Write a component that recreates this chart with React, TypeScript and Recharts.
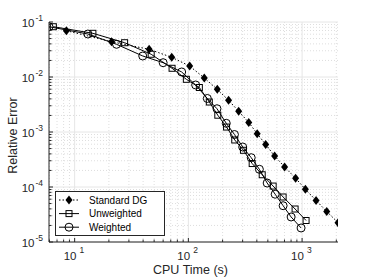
import { ComposedChart, Line, XAxis, YAxis, CartesianGrid, Legend, Label } from 'recharts'

// CPU time (s) and relative error
const dgTime = [8.46, 21.1, 45.2, 71.4, 102.7, 138, 179.6, 225.7, 277, 339.5, 403, 478.5, 573.6, 702, 877, 1069, 1327, 1647, 2069]
const dgError = [0.0695, 0.0438, 0.0319, 0.0228, 0.0158, 0.0096, 0.00597, 0.00377, 0.00238, 0.00149, 0.000931, 0.000593, 0.000366, 0.000231, 0.000144, 0.0000912, 0.0000569, 0.0000359, 0.0000225]

const unwTime = [6.5, 14.47, 27.5, 47.1, 71.9, 96, 124.9, 152.8, 181.5, 216.7, 255.7, 305, 364, 446, 556.6, 681, 868, 1084]
const unwError = [0.0821, 0.0623, 0.042, 0.0259, 0.0144, 0.00908, 0.00644, 0.00351, 0.00202, 0.00123, 0.000716, 0.000465, 0.000267, 0.000167, 0.000104, 0.0000658, 0.0000398, 0.0000246]

const wTime = [5.95, 13.08, 23.35, 39.7, 60, 87.3, 115.9, 146.8, 178.5, 215.4, 254.2, 300.6, 357, 421, 493, 579.6, 681, 801, 980]
const wError = [0.0821, 0.0605, 0.0393, 0.0241, 0.0182, 0.01234, 0.00716, 0.00407, 0.00265, 0.00144, 0.000901, 0.000534, 0.000341, 0.00021, 0.000118, 0.000074, 0.0000457, 0.0000285, 0.000018]

const xMajor = [10, 100, 1000]
const yMajor = [1e-5, 1e-4, 1e-3, 1e-2, 1e-1]
const xMinor = [6, 7, 8, 9, 20, 30, 40, 50, 60, 70, 80, 90, 200, 300, 400, 500, 600, 700, 800, 900, 2000]
const yMinor = [
  2e-5, 3e-5, 4e-5, 5e-5, 6e-5, 7e-5, 8e-5, 9e-5,
  2e-4, 3e-4, 4e-4, 5e-4, 6e-4, 7e-4, 8e-4, 9e-4,
  2e-3, 3e-3, 4e-3, 5e-3, 6e-3, 7e-3, 8e-3, 9e-3,
  2e-2, 3e-2, 4e-2, 5e-2, 6e-2, 7e-2, 8e-2, 9e-2,
]

const zip = (xs: number[], ys: number[]) => xs.map((x, i) => ({ x, y: ys[i] }))

const series = [
  { name: 'Standard DG', data: zip(dgTime, dgError), shape: 'diamond', dash: '1.5 2' },
  { name: 'Unweighted', data: zip(unwTime, unwError), shape: 'square', dash: undefined },
  { name: 'Weighted', data: zip(wTime, wError), shape: 'circle', dash: undefined },
]

const font = '"Liberation Sans", Arial, sans-serif'
const axisColor = '#262626'

function marker(shape: string, cx: number, cy: number, key?: string | number) {
  if (shape === 'diamond') {
    return (
      <polygon
        key={key}
        points={`${cx},${cy - 4.5} ${cx + 3.5},${cy} ${cx},${cy + 4.5} ${cx - 3.5},${cy}`}
        fill="#000"
      />
    )
  }
  if (shape === 'square') {
    return <rect key={key} x={cx - 3} y={cy - 3} width={6} height={6} fill="none" stroke="#000" strokeWidth={1} />
  }
  return <circle key={key} cx={cx} cy={cy} r={4} fill="none" stroke="#000" strokeWidth={1} />
}

const exp = (v: number) => Math.round(Math.log10(v))

function XTick(props: any) {
  const { x, y, payload } = props
  const major = xMajor.includes(payload.value)
  return (
    <g>
      <line x1={x} x2={x} y1={y} y2={y - (major ? 4 : 2.5)} stroke={axisColor} />
      {major && (
        <text x={x - 11} y={y + 18} fontSize={11.5} fill={axisColor} fontFamily={font}>
          10
          <tspan dx={3} dy={-7.5} fontSize={8.5}>{exp(payload.value)}</tspan>
        </text>
      )}
    </g>
  )
}

function YTick(props: any) {
  const { x, y, payload } = props
  const major = yMajor.includes(payload.value)
  return (
    <g>
      <line x1={x} x2={x + (major ? 4 : 2.5)} y1={y} y2={y} stroke={axisColor} />
      {major && (
        <text x={x - 6} y={y + 4.5} textAnchor="end" fontSize={11.5} fill={axisColor} fontFamily={font}>
          10
          <tspan dx={1} dy={-6} fontSize={8.5}>{exp(payload.value)}</tspan>
        </text>
      )}
    </g>
  )
}

function LegendBox() {
  return (
    <svg width={110} height={45} style={{ display: 'block' }}>
      <rect x={0.5} y={0.5} width={109} height={44} fill="#fff" stroke={axisColor} />
      {series.map((s, i) => {
        const cy = 9 + i * 13.6
        return (
          <g key={s.name}>
            <line x1={4} x2={24} y1={cy} y2={cy} stroke="#000" strokeDasharray={s.dash} />
            {marker(s.shape, 14, cy)}
            <text x={34} y={cy + 3.5} fontSize={10} fill="#000" fontFamily={font}>
              {s.name}
            </text>
          </g>
        )
      })}
    </svg>
  )
}

export default function App() {
  return (
    <div style={{ position: 'absolute', left: 0, top: 0, background: '#fff' }}>
      <ComposedChart width={374} height={280} margin={{ top: 22, right: 36, bottom: 0, left: 0 }}>
        <CartesianGrid
          horizontalValues={yMinor}
          verticalValues={xMinor}
          stroke="#dedede"
          strokeDasharray="1 2"
        />
        <CartesianGrid horizontalValues={yMajor} verticalValues={xMajor} stroke="#e6e6e6" />
        <XAxis
          dataKey="x"
          type="number"
          scale="log"
          domain={[5.95, 2069]}
          allowDataOverflow
          ticks={[...xMajor, ...xMinor]}
          interval={0}
          tickSize={0}
          tickMargin={0}
          tickLine={false}
          tick={<XTick />}
          height={38}
          axisLine={{ stroke: axisColor }}
        >
          <Label
            content={() => (
              <text x={190.5} y={274} textAnchor="middle" fontSize={12.5} fill={axisColor} fontFamily={font}>
                CPU Time (s)
              </text>
            )}
          />
        </XAxis>
        <YAxis
          dataKey="y"
          type="number"
          scale="log"
          domain={[1e-5, 1e-1]}
          allowDataOverflow
          ticks={[...yMajor, ...yMinor]}
          interval={0}
          tickSize={0}
          tickMargin={0}
          tickLine={false}
          tick={<YTick />}
          width={49}
          axisLine={{ stroke: axisColor }}
        >
          <Label
            content={() => (
              <text
                x={17}
                y={135.5}
                transform="rotate(-90 17 135.5)"
                textAnchor="middle"
                fontSize={12.5}
                fill={axisColor}
                fontFamily={font}
              >
                Relative Error
              </text>
            )}
          />
        </YAxis>
        {series.map((s) => (
          <Line
            key={s.name}
            name={s.name}
            data={s.data}
            dataKey="y"
            type="linear"
            stroke="#000"
            strokeWidth={1}
            strokeDasharray={s.dash}
            isAnimationActive={false}
            dot={(p: any) => marker(s.shape, p.cx, p.cy, p.index)}
            activeDot={false}
          />
        ))}
        <Legend
          layout="vertical"
          align="center"
          verticalAlign="middle"
          content={() => <LegendBox />}
          wrapperStyle={{ position: 'absolute', left: 55, top: 191, width: 110, height: 45 }}
        />
      </ComposedChart>
    </div>
  )
}
